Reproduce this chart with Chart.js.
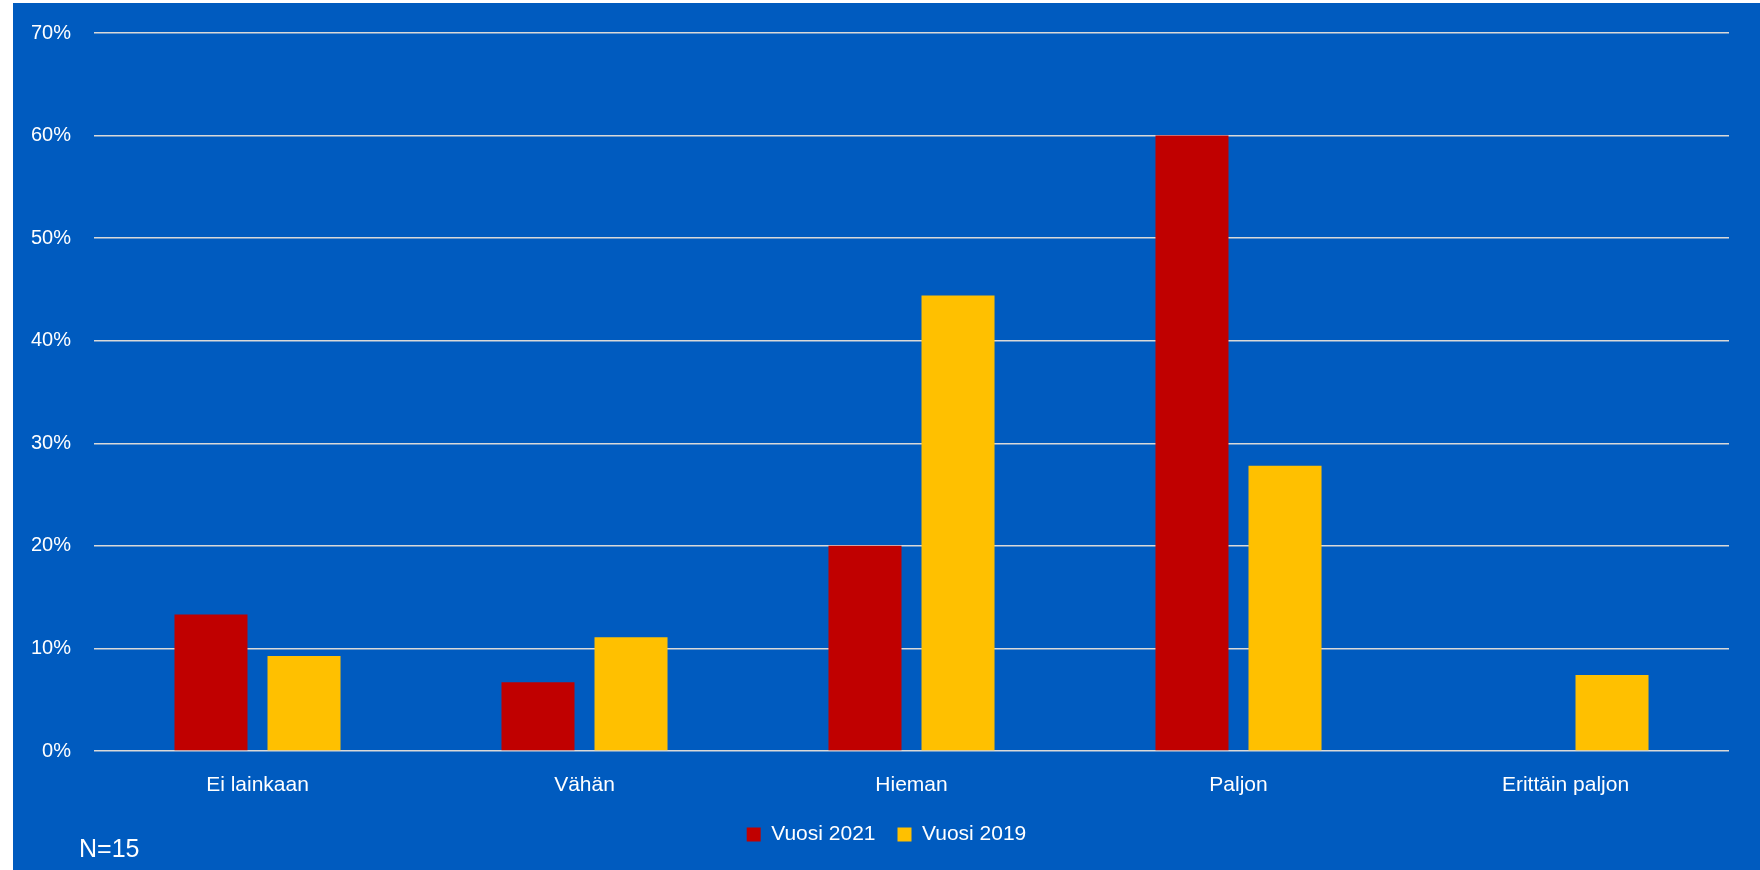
<!DOCTYPE html>
<html>
<head>
<meta charset="utf-8">
<script src="https://cdn.jsdelivr.net/npm/chart.js@4"></script>
<style>
  body { margin: 0; background: #ffffff; }
  #box { position: absolute; left: 13px; top: 3px; width: 1747px; height: 867px; background: #005BBF; }
  #note { position: absolute; left: 79px; top: 834px; color: #ffffff; font-family: "Liberation Sans", sans-serif; font-size: 25px; }
</style>
</head>
<body>
<div id="box"><canvas id="myChart" width="1747" height="867"></canvas></div>
<div id="note">N=15</div>
<script>
var categories = ['Ei lainkaan', 'Vähän', 'Hieman', 'Paljon', 'Erittäin paljon'];
var vuosi2021 = [13.3, 6.7, 20.0, 60.0, 0];
var vuosi2019 = [9.26, 11.1, 44.4, 27.8, 7.4];
var tickLabels = ['0%', '10%', '20%', '30%', '40%', '50%', '60%', '70%'];

var ctx = document.getElementById('myChart').getContext('2d');

var myChart = new Chart(ctx, {
    type: 'bar',
    data: {
        labels: categories,
        datasets: [{
            label: 'Vuosi 2021',
            data: vuosi2021,
            backgroundColor: '#C00000',
            categoryPercentage: 0.569,
            barPercentage: 0.785
        },
        {
            label: 'Vuosi 2019',
            data: vuosi2019,
            backgroundColor: '#FFC000',
            categoryPercentage: 0.569,
            barPercentage: 0.785
        }]
    },
    options: {
        responsive: false,
        animation: false,
        layout: { padding: { top: 0, right: 0, bottom: 15, left: 0 } },
        plugins: {
            tooltip: { enabled: false },
            legend: {
                position: 'bottom',
                labels: {
                    color: '#ffffff',
                    boxWidth: 14,
                    boxHeight: 14,
                    padding: 22,
                    font: { family: 'Liberation Sans', size: 21 }
                }
            }
        },
        scales: {
            x: {
                grid: { display: false, drawTicks: false },
                border: { display: false },
                ticks: {
                    color: '#ffffff',
                    padding: 22,
                    font: { family: 'Liberation Sans', size: 21 }
                },
                afterFit: function(scale) { scale.height = 51; }
            },
            y: {
                min: 0,
                max: 70,
                grid: { color: '#D9D9D9', lineWidth: 1.5, drawTicks: false },
                border: { display: false },
                ticks: {
                    stepSize: 10,
                    color: '#ffffff',
                    padding: 23,
                    font: { family: 'Liberation Sans', size: 20, lineHeight: 0.7 },
                    callback: function(value) { return tickLabels[Math.round(value / 10)]; }
                },
                afterFit: function(scale) { scale.width = 81; }
            },
            // empty right axis, only keeps the gap on the right side
            yRight: {
                position: 'right',
                grid: { display: false, drawTicks: false },
                border: { display: false },
                ticks: { display: false },
                afterFit: function(scale) { scale.width = 31; }
            }
        }
    }
});
</script>
</body>
</html>
